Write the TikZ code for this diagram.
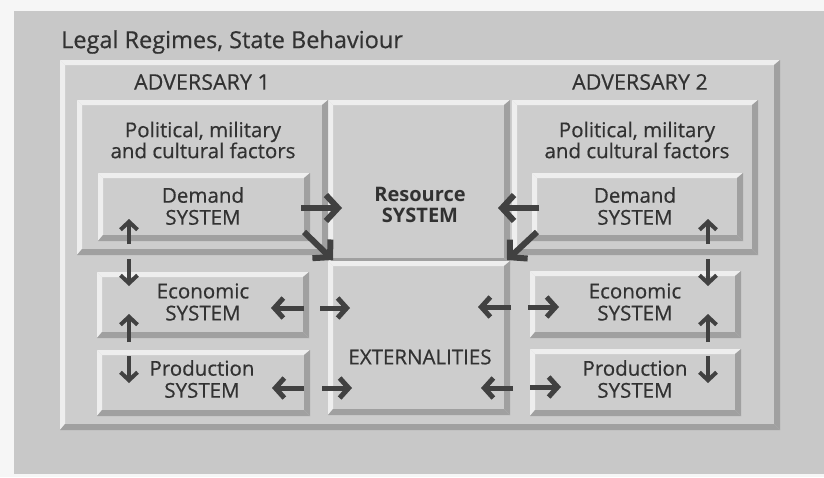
\documentclass[tikz,border=0pt]{standalone}
\usepackage{fontspec}
\setmainfont{Open Sans}[FakeBold=0.5]
\newfontfamily\boldfam{Open Sans Bold}
\usetikzlibrary{arrows.meta,calc,fit}
\definecolor{paper}{RGB}{246,246,246}
\definecolor{bg}{RGB}{200,200,200}
\definecolor{face}{RGB}{205,205,205}
\definecolor{hl}{RGB}{238,238,238}
\definecolor{sh}{RGB}{160,160,160}
\definecolor{ink}{RGB}{50,50,50}
\definecolor{arrc}{RGB}{65,65,65}
\newlength\bw \setlength\bw{5pt}
\newlength\sw \setlength\sw{6pt}
\newcommand\bevbox[5]{%
  \path (#2,#3) coordinate (#1-a) (#4,#5) coordinate (#1-b);
  \node[boxnode, fit=(#1-a)(#1-b)] (#1) {};
  \fill[hl] (#1.north west) -- (#1.north east) -- ([xshift=-\sw,yshift=-\bw]#1.north east) -- ([xshift=\bw,yshift=-\bw]#1.north west) -- cycle;
  \fill[hl] (#1.north west) -- ([xshift=\bw,yshift=-\bw]#1.north west) -- ([xshift=\bw,yshift=\sw]#1.south west) -- (#1.south west) -- cycle;
  \fill[sh] (#1.north east) -- (#1.south east) -- ([xshift=-\sw,yshift=\sw]#1.south east) -- ([xshift=-\sw,yshift=-\bw]#1.north east) -- cycle;
  \fill[sh] (#1.south west) -- (#1.south east) -- ([xshift=-\sw,yshift=\sw]#1.south east) -- ([xshift=\bw,yshift=\sw]#1.south west) -- cycle;
}
\tikzset{
  boxnode/.style={inner sep=0pt, outer sep=0pt, fill=face, draw=none},
  lbl/.style={text=ink, font=\fontsize{20.5}{21}\selectfont, align=center, inner sep=0pt},
  sys/.style={lbl, font=\fontsize{20.5}{22}\selectfont},
  big/.style={draw=arrc, line width=6pt, -{Straight Barb[length=12pt,width=26pt,line width=6pt]}},
  arr/.style={draw=arrc, line width=5pt, -{Straight Barb[length=9pt,width=20pt,line width=5pt]}},
  varr/.style={draw=arrc, line width=4pt, -{Straight Barb[length=8pt,width=17pt,line width=4pt]}},
}
\begin{document}
\begin{tikzpicture}[x=1pt,y=-1pt]
\useasboundingbox (0,0) rectangle (824,477);
\fill[paper] (0,0) rectangle (824,477);
\fill[bg] (14,11) rectangle (824,474);
% outer frame
\bevbox{frame}{60}{60}{780}{430}
\node[lbl, font=\fontsize{23.5}{24}\selectfont, anchor=west] (title) at (61,42) {Legal Regimes, State Behaviour};
\node[lbl, font=\fontsize{21.5}{22}\selectfont] (adv1) at (202,82) {ADVERSARY 1};
\node[lbl, font=\fontsize{21.5}{22}\selectfont] (adv2) at (640,82) {ADVERSARY 2};
% central column
\bevbox{res}{328}{100}{510}{264}
\bevbox{ext}{328}{261}{510}{415}
% left side
\bevbox{polL}{77}{100}{328}{255}
\bevbox{demL}{98}{173}{310}{241}
\bevbox{ecoL}{97}{272}{309}{338}
\bevbox{proL}{97}{350}{310}{416}
% right side
\bevbox{polR}{512}{100}{758}{255}
\bevbox{demR}{532}{173}{743}{241}
\bevbox{ecoR}{530}{271}{741}{338}
\bevbox{proR}{530}{349}{741}{416}
% texts
\node[lbl, font=\fontsize{20}{21}\boldfam] (tres) at (420,205) {Resource\\SYSTEM};
\node[lbl] (text) at (420,357) {EXTERNALITIES};
\node[lbl] (tpolL) at (203,140) {Political, military\\and cultural factors};
\node[lbl] (tpolR) at (637,140) {Political, military\\and cultural factors};
\node[sys] (tdemL) at (203,206) {Demand\\SYSTEM};
\node[sys] (tdemR) at (635,206) {Demand\\SYSTEM};
\node[sys] (tecoL) at (203,302) {Economic\\SYSTEM};
\node[sys] (tecoR) at (635,302) {Economic\\SYSTEM};
\node[sys] (tproL) at (202,379) {Production\\SYSTEM};
\node[sys] (tproR) at (635,379) {Production\\SYSTEM};
% arrow end points
\path (301,208) coordinate (a1s) (342,208) coordinate (a1e)
      (304,232) coordinate (a2s) (333,260) coordinate (a2e)
      (539,208) coordinate (b1s) (498,208) coordinate (b1e)
      (537,232) coordinate (b2s) (507,260) coordinate (b2e)
      (304,308) coordinate (c1s) (271,308) coordinate (c1e)
      (320,308) coordinate (c2s) (350,308) coordinate (c2e)
      (304,388) coordinate (d1s) (272,388) coordinate (d1e)
      (322,388) coordinate (d2s) (352,388) coordinate (d2e)
      (511,307) coordinate (e1s) (478,307) coordinate (e1e)
      (528,307) coordinate (e2s) (559,307) coordinate (e2e)
      (513,388) coordinate (f1s) (481,388) coordinate (f1e)
      (530,387) coordinate (f2s) (561,387) coordinate (f2e)
      (129,244) coordinate (g1s) (129,219) coordinate (g1e)
      (129,259) coordinate (g2s) (129,286) coordinate (g2e)
      (129,342) coordinate (g3s) (129,314) coordinate (g3e)
      (129,356) coordinate (g4s) (129,383) coordinate (g4e)
      (708,244) coordinate (h1s) (708,219) coordinate (h1e)
      (708,259) coordinate (h2s) (708,286) coordinate (h2e)
      (708,342) coordinate (h3s) (708,314) coordinate (h3e)
      (708,356) coordinate (h4s) (708,383) coordinate (h4e);
\draw[big] (a1s) -- (a1e);
\draw[big] (a2s) -- (a2e);
\draw[big] (b1s) -- (b1e);
\draw[big] (b2s) -- (b2e);
\foreach \p in {c1,c2,d1,d2,e1,e2,f1,f2} \draw[arr] (\p s) -- (\p e);
\foreach \p in {g1,g2,g3,g4,h1,h2,h3,h4} \draw[varr] (\p s) -- (\p e);
\end{tikzpicture}
\end{document}
